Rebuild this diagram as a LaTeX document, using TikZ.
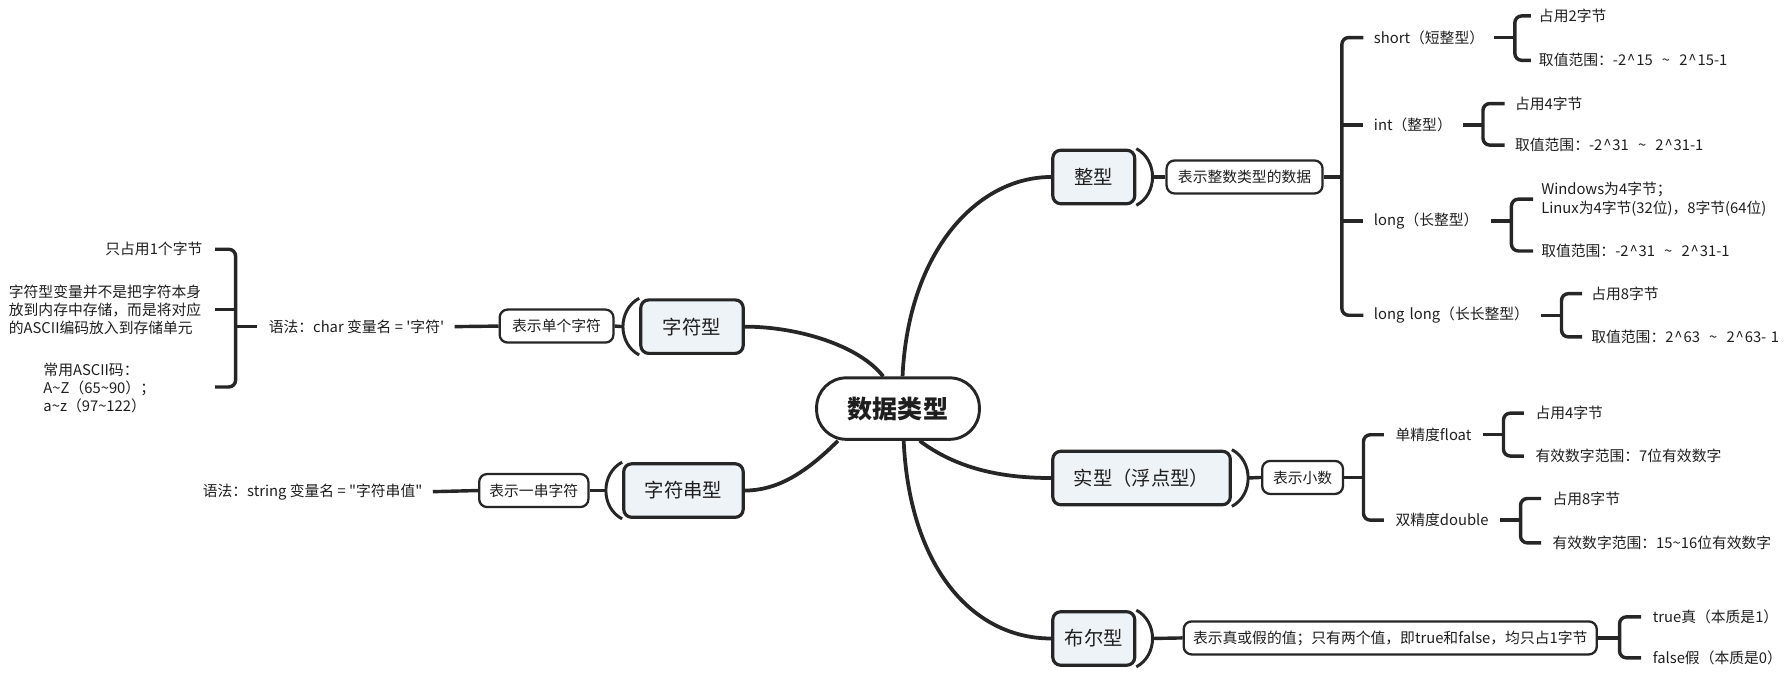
\documentclass[tikz,border=0pt]{standalone}
\usepackage{fontspec}
\setmainfont{Noto Sans CJK SC}[Ligatures=TeXOff]
\usetikzlibrary{calc}
\definecolor{lc}{HTML}{262626}
\definecolor{bf}{HTML}{EEF3F7}
\definecolor{tc}{HTML}{1E1E1E}
\newcommand\mytld{\textasciitilde}
\newcommand\mycrt{\kern0.8pt\textasciicircum\kern0.8pt}
\newcommand\mysim{\hspace{0.62em}\textasciitilde\hspace{0.62em}}
\begin{document}
\begin{tikzpicture}[x=1pt,y=-1pt,
  every node/.style={text=tc},
  rootbox/.style={draw=lc, line width=2.6pt, rounded corners=26pt, fill=white, minimum width=143pt, minimum height=54pt, inner sep=0pt, font=\fontsize{22}{26}\selectfont\bfseries},
  mainbox/.style={draw=lc, line width=2.8pt, rounded corners=7pt, fill=bf, minimum height=47pt, inner sep=0pt, font=\fontsize{17}{20}\selectfont},
  subbox/.style={draw=lc, line width=2pt, rounded corners=7pt, fill=white, minimum height=29pt, inner sep=0pt, font=\fontsize{13}{16}\selectfont},
  leaf/.style={inner sep=0pt, font=\fontsize{13}{16}\selectfont, align=left},
  conn/.style={draw=lc, line width=3.3pt},
  brk/.style={draw=lc, line width=3pt, rounded corners=6pt},
  arcl/.style={draw=lc, line width=2.6pt},
]
\useasboundingbox (0,0) rectangle (1571,594);

% root and main branches
\node[rootbox] (root) at (789,359) {数据类型};
\node[mainbox, minimum width=72pt] (zx) at (961,155.5) {整型};
\node[mainbox, minimum width=156pt] (sx) at (1003,420) {实型（浮点型）};
\node[mainbox, minimum width=72pt] (bx) at (961,561) {布尔型};
\node[mainbox, minimum width=90pt] (cx) at (608,287) {字符型};
\node[mainbox, minimum width=105pt] (csx) at (600.5,431) {字符串型};

% main curves
\draw[conn] ([xshift=4pt]root.north) .. controls +(5,-110) and +(-65,0) .. (zx.west);
\draw[conn] ([xshift=19pt]root.south) .. controls +(32,24) and +(-45,0) .. (sx.west);
\draw[conn] ([xshift=5pt]root.south) .. controls +(5,110) and +(-70,0) .. (bx.west);
\draw[conn] ([xshift=-13pt]root.north) .. controls +(-21,-27) and +(47,0) .. (cx.east);
\draw[conn] ([xshift=20pt]root.south west) .. controls +(-30,30) and +(27,0) .. (csx.east);

% description boxes
\node[subbox, minimum width=137pt] (zd) at (1093.5,155.5) {表示整数类型的数据};
\node[subbox, minimum width=71pt] (sd) at (1144.5,419.5) {表示小数};
\node[subbox, minimum width=363pt] (bd) at (1221.5,560.5) {表示真或假的值；只有两个值，即true和false，均只占1字节};
\node[subbox, minimum width=100pt] (cd) at (489,286.5) {表示单个字符};
\node[subbox, minimum width=96pt] (csd) at (469,431) {表示一串字符};

% arcs beside main boxes
\draw[arcl] (zx.north east) .. controls +(19,10) and +(19,-10) .. (zx.south east);
\draw[arcl] (sx.north east) .. controls +(19,10) and +(19,-10) .. (sx.south east);
\draw[arcl] (bx.north east) .. controls +(19,10) and +(19,-10) .. (bx.south east);
\draw[arcl] (cx.north west) .. controls +(-19,10) and +(-19,-10) .. (cx.south west);
\draw[arcl] (csx.north west) .. controls +(-19,10) and +(-19,-10) .. (csx.south west);
\draw[brk] ([xshift=14pt]zx.east) -- (zd.west);
\draw[brk] ([xshift=14pt]sx.east) -- (sd.west);
\draw[brk] ([xshift=14pt]bx.east) -- (bd.west);
\draw[brk] ([xshift=-14pt]cx.west) -- (cd.east);
\draw[brk] ([xshift=-14pt]csx.west) -- (csd.east);

% integer types
\node[leaf, anchor=west] (short) at (1207,33) {short（短整型）};
\node[leaf, anchor=west] (int) at (1207,110) {int（整型）};
\node[leaf, anchor=west] (long) at (1207,194) {long（长整型）};
\node[leaf, anchor=west] (ll) at (1207,277) {long\hspace{0.35em}long（长长整型）};
\coordinate (zv) at (1179,155.5);
\draw[brk] ([xshift=-9pt]short.west) -| (zv) |- ([xshift=-9pt]ll.west);
\draw[brk] (zv |- int.west) -- ([xshift=-9pt]int.west);
\draw[brk] (zv |- long.west) -- ([xshift=-9pt]long.west);
\draw[brk] (zd.east) -- (zv);

\node[leaf, anchor=west] (s1) at (1352,14) {占用2字节};
\node[leaf, anchor=west] (s2) at (1352,53) {取值范围：-2\mycrt 15\mysim 2\mycrt 15-1};
\coordinate (sv) at (1331,33);
\draw[brk] ([xshift=-7pt]s1.west) -| (sv) |- ([xshift=-7pt]s2.west);
\draw[brk] (sv) -- ++(-18,0);

\node[leaf, anchor=west] (i1) at (1331,91) {占用4字节};
\node[leaf, anchor=west] (i2) at (1331,127.5) {取值范围：-2\mycrt 31\mysim 2\mycrt 31-1};
\coordinate (iv) at (1303,110);
\draw[brk] ([xshift=-9pt]i1.west) -| (iv) |- ([xshift=-9pt]i2.west);
\draw[brk] (iv) -- ++(-18,0);

\node[leaf, anchor=west] (l1) at (1354,175) {Windows为4字节；\\Linux为4字节(32位)，8字节(64位)};
\node[leaf, anchor=west] (l2) at (1354,220.5) {取值范围：-2\mycrt 31\mysim 2\mycrt 31-1};
\coordinate (lv) at (1328,194);
\draw[brk] ([xshift=-7pt]l1.west) -| (lv) |- ([xshift=-7pt]l2.west);
\draw[brk] (lv) -- ++(-18,0);

\node[leaf, anchor=west] (ll1) at (1398,258) {占用8字节};
\node[leaf, anchor=west] (ll2) at (1398,296) {取值范围：2\mycrt 63\mysim 2\mycrt 63-\hspace{0.3em}1};
\coordinate (llv) at (1372,277);
\draw[brk] ([xshift=-8pt]ll1.west) -| (llv) |- ([xshift=-8pt]ll2.west);
\draw[brk] (llv) -- ++(-18,0);

% float types
\node[leaf, anchor=west] (fl) at (1226,382) {单精度float};
\node[leaf, anchor=west] (db) at (1226,457) {双精度double};
\coordinate (fv0) at (1198,419.5);
\draw[brk] ([xshift=-10pt]fl.west) -| (fv0) |- ([xshift=-10pt]db.west);
\draw[brk] (sd.east) -- (fv0);

\node[leaf, anchor=west] (f1) at (1349,363) {占用4字节};
\node[leaf, anchor=west] (f2) at (1349,400.7) {有效数字范围：7位有效数字};
\coordinate (fv) at (1321,382);
\draw[brk] ([xshift=-10pt]f1.west) -| (fv) |- ([xshift=-10pt]f2.west);
\draw[brk] (fv) -- ++(-18,0);

\node[leaf, anchor=west] (d1) at (1364,438) {占用8字节};
\node[leaf, anchor=west] (d2) at (1364,477) {有效数字范围：15\mytld 16位有效数字};
\coordinate (dv) at (1336,457);
\draw[brk] ([xshift=-10pt]d1.west) -| (dv) |- ([xshift=-10pt]d2.west);
\draw[brk] (dv) -- ++(-18,0);

% bool
\node[leaf, anchor=west] (t1) at (1452,542) {true真（本质是1）};
\node[leaf, anchor=west] (t2) at (1452,578) {false假（本质是0）};
\coordinate (tv) at (1423,560.5);
\draw[brk] ([xshift=-10pt]t1.west) -| (tv) |- ([xshift=-10pt]t2.west);
\draw[brk] (bd.east) -- (tv);

% char
\node[leaf, anchor=west] (syn1) at (236,287) {语法：char 变量名 = '字符'};
\draw[brk] ([xshift=9pt]syn1.east) -- (cd.west);
\node[leaf, anchor=east] (c1) at (178,219) {只占用1个字节};
\node[leaf, anchor=east] (c2) at (177,272) {字符型变量并不是把字符本身\\放到内存中存储，而是将对应\\的ASCII编码放入到存储单元};
\node[leaf, anchor=west] (c3) at (38,341) {常用ASCII码：\\A\mytld Z（65\mytld 90）；\\a\mytld z（97\mytld 122）};
\coordinate (cv) at (207,280);
\coordinate (c3e) at (189,340);
\draw[brk] ([xshift=11pt]c1.east) -| (cv) |- (c3e);
\draw[brk] ([xshift=12pt]c2.east) -- (cv |- c2.east);
\draw[brk] (cv |- syn1.west) -- ([xshift=-10pt]syn1.west);

% string
\node[leaf, anchor=west] (syn2) at (178,432) {语法：string 变量名 = "字符串值"};
\draw[brk] ([xshift=9pt]syn2.east) -- (csd.west);
\end{tikzpicture}
\end{document}
